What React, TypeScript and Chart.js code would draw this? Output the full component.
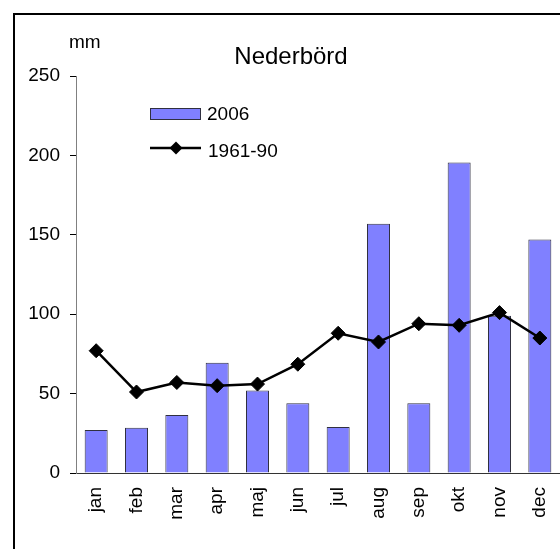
import React, { useEffect, useRef } from "react";
import { Chart, registerables } from "chart.js";

Chart.register(...registerables);

const months = ["jan", "feb", "mar", "apr", "maj", "jun", "jul", "aug", "sep", "okt", "nov", "dec"];
const values2006 = [27, 28.5, 36.5, 69.5, 52, 44, 29, 157, 44, 195.5, 99, 147];
const normal196190 = [77, 51, 57, 55, 56, 68.5, 88, 82.5, 94, 93, 101, 85];
const titleText = "Nederbörd";
const unitText = "mm";
const seriesNames = ["2006", "1961-90"];

const FONT = "'Liberation Sans', Arial, sans-serif";
const BAR_COLOR = "#8080FF";

const decorPlugin = {
  id: "decor",
  beforeDraw(chart: any) {
    const ctx = chart.ctx;
    ctx.save();
    ctx.fillStyle = "#ffffff";
    ctx.fillRect(0, 0, chart.width, chart.height);
    ctx.strokeStyle = "#000000";
    ctx.lineWidth = 2;
    ctx.strokeRect(14, 14, 600, 600);
    ctx.restore();
  },
  afterDraw(chart: any) {
    const ctx = chart.ctx;
    ctx.save();
    ctx.fillStyle = "#000000";
    ctx.textBaseline = "alphabetic";
    ctx.font = `24px ${FONT}`;
    ctx.textAlign = "center";
    ctx.fillText(titleText, 291, 64);
    ctx.font = `19px ${FONT}`;
    ctx.textAlign = "left";
    ctx.fillText(unitText, 69, 48);

    // legend
    ctx.fillStyle = BAR_COLOR;
    ctx.fillRect(150, 108, 51, 11);
    ctx.strokeStyle = "#303040";
    ctx.lineWidth = 1;
    ctx.strokeRect(150.5, 108.5, 50, 11);
    ctx.fillStyle = "#000000";
    ctx.fillText(seriesNames[0], 207, 120);

    ctx.strokeStyle = "#000000";
    ctx.lineWidth = 2.5;
    ctx.beginPath();
    ctx.moveTo(150, 148);
    ctx.lineTo(201, 148);
    ctx.stroke();
    const r = 6.5;
    ctx.beginPath();
    ctx.moveTo(176 - r, 148);
    ctx.lineTo(176, 148 - r);
    ctx.lineTo(176 + r, 148);
    ctx.lineTo(176, 148 + r);
    ctx.closePath();
    ctx.fill();
    ctx.fillText(seriesNames[1], 208, 157);
    ctx.restore();
  },
};

export default function App() {
  const ref = useRef<HTMLCanvasElement | null>(null);

  useEffect(() => {
    if (!ref.current) return;
    const chart = new Chart(ref.current, {
      type: "bar",
      data: {
        labels: months,
        datasets: [
          {
            type: "line",
            label: seriesNames[1],
            data: normal196190,
            borderColor: "#000000",
            backgroundColor: "#000000",
            borderWidth: 2.5,
            pointStyle: "rectRot",
            pointRadius: 7,
            pointBorderWidth: 1,
            pointBackgroundColor: "#000000",
            pointBorderColor: "#000000",
            tension: 0,
            order: 0,
          } as any,
          {
            type: "bar",
            label: seriesNames[0],
            data: values2006,
            backgroundColor: BAR_COLOR,
            borderColor: "#303040",
            borderWidth: 1,
            categoryPercentage: 1,
            barPercentage: 0.57,
            order: 1,
          } as any,
        ],
      },
      options: {
        responsive: false,
        animation: false,
        devicePixelRatio: 1,
        layout: { autoPadding: false, padding: { top: 76, right: 0, bottom: 0, left: 0 } },
        plugins: {
          legend: { display: false },
          title: { display: false },
          tooltip: { enabled: false },
        },
        scales: {
          x: {
            offset: true,
            grid: { display: false, drawTicks: false },
            border: { display: true, color: "#333333", width: 1 },
            ticks: {
              color: "#000000",
              font: { family: FONT, size: 19 },
              minRotation: 90,
              maxRotation: 90,
              padding: 14,
              autoSkip: false,
            },
            afterFit(scale: any) {
              scale.height = 76;
              scale.paddingLeft = 0;
              scale.paddingRight = 0;
            },
          },
          y: {
            min: 0,
            max: 250,
            grid: { drawOnChartArea: false, color: "#000000", tickLength: 6 },
            border: { display: true, color: "#808080", width: 1 },
            ticks: {
              stepSize: 50,
              color: "#000000",
              font: { family: FONT, size: 19 },
              padding: 10,
            },
            afterFit(scale: any) {
              scale.width = 76;
              scale.paddingTop = 0;
              scale.paddingBottom = 0;
            },
          },
        },
      },
      plugins: [decorPlugin],
    });
    return () => chart.destroy();
  }, []);

  return (
    <div style={{ position: "fixed", left: 0, top: 0, width: 560, height: 549 }}>
      <canvas ref={ref} width={560} height={549} style={{ display: "block" }} />
    </div>
  );
}
